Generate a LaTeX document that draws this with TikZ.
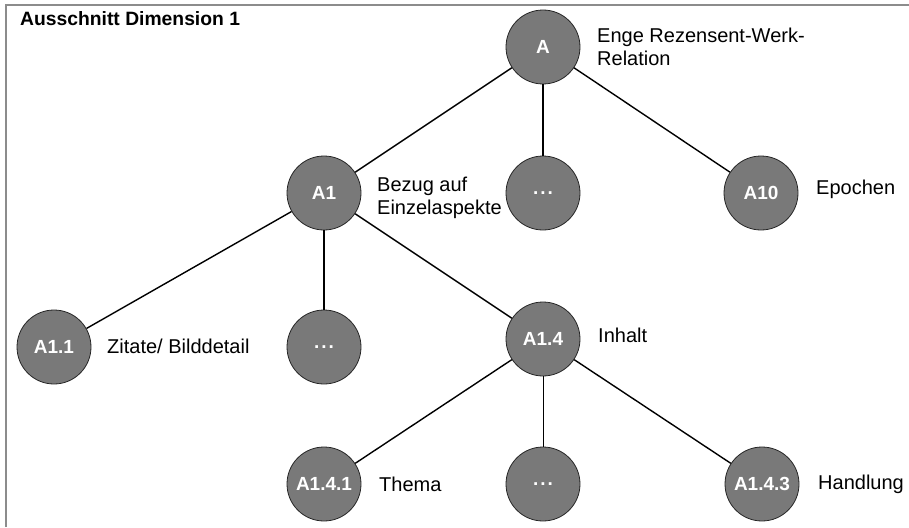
\documentclass[tikz,border=0pt]{standalone}
\usepackage{fontspec}
\setmainfont{Liberation Sans}
\definecolor{knoten}{RGB}{121,121,121}
\definecolor{rahmen}{RGB}{140,140,140}
\begin{document}
\begin{tikzpicture}[x=1pt, y=-1pt,
    kat/.style={circle, draw=black!85, line width=0.8pt, fill=knoten, minimum size=74pt,
        inner sep=0pt, text=white, font=\fontsize{19}{23}\selectfont\bfseries},
    beschr/.style={anchor=west, align=left, inner sep=0pt, font=\fontsize{20}{23.5}\selectfont},
    kante/.style={line width=1.4pt, black}]
    % Rahmen (nur oben und links)
    \useasboundingbox (0,0) rectangle (909,527);
    \draw[rahmen, line width=2pt] (6,527) -- (6,5) -- (909,5);
    \node[anchor=west, inner sep=0pt, font=\fontsize{19.3}{23}\selectfont\bfseries] (titel) at (20,19) {Ausschnitt Dimension 1};

    % 1. Ebene 0
    \node[kat] (a) at (543,47) {A};

    % 2. Ebene 1
    \node[kat] (a1)   at (324,193) {A1};
    \node[kat] (a1p)  at (543,193) {.\hspace{2pt}.\hspace{2pt}.};
    \node[kat] (a10)  at (761,193) {A10};

    % 3. Ebene 2
    \node[kat] (a11)  at (54,347)  {A1.1};
    \node[kat] (a1pp) at (324,347) {.\hspace{2pt}.\hspace{2pt}.};
    \node[kat] (a14)  at (543,339) {A1.4};

    % 4. Ebene 3
    \node[kat] (a141) at (324,484) {A1.4.1};
    \node[kat] (a14p) at (543,484) {.\hspace{2pt}.\hspace{2pt}.};
    \node[kat] (a143) at (762,484) {A1.4.3};

    % 5. Kanten
    \draw[kante] (a) -- (a1);
    \draw[kante] (a) -- (a1p);
    \draw[kante] (a) -- (a10);
    \draw[kante] (a1) -- (a11);
    \draw[kante] (a1) -- (a1pp);
    \draw[kante] (a1) -- (a14);
    \draw[kante] (a14) -- (a141);
    \draw[line width=0.8pt, black] (a14) -- (a14p);
    \draw[kante] (a14) -- (a143);

    % 6. Beschriftungen
    \node[beschr] (la)    at (597,47)  {Enge Rezensent-Werk-\\Relation};
    \node[beschr] (la1)   at (377,198) {Bezug auf\\Einzelaspekte};
    \node[beschr] (la10)  at (816,189) {Epochen};
    \node[beschr] (la11)  at (107,346) {Zitate/ Bilddetail};
    \node[beschr] (la14)  at (598,335) {Inhalt};
    \node[beschr] (la141) at (379,484) {Thema};
    \node[beschr] (la143) at (818,484) {Handlung};
\end{tikzpicture}
\end{document}
